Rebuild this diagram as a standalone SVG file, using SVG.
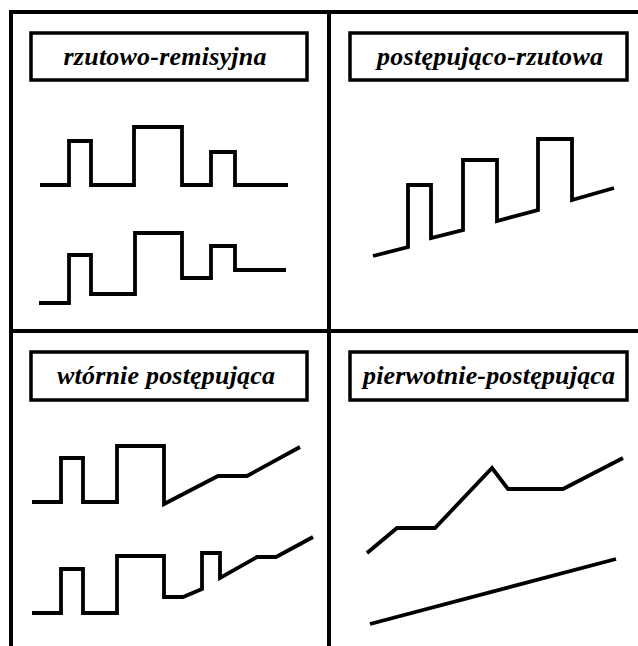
<svg xmlns="http://www.w3.org/2000/svg" width="638" height="646" viewBox="0 0 638 646">
<style>
.frame{stroke:#000;stroke-width:4;fill:none}
.box rect{fill:#fff;stroke:#000;stroke-width:3.5}
.box text{font-family:"Liberation Serif","DejaVu Serif",serif;font-weight:bold;font-style:italic;font-size:26px;fill:#000;text-anchor:middle}
.wave{fill:none;stroke:#000;stroke-width:3.8;stroke-linejoin:miter;stroke-linecap:butt}
</style>
<rect width="638" height="646" fill="#fff"/>
<g id="grid" class="frame">
<line x1="9" y1="12" x2="638" y2="12"/>
<line x1="11" y1="10" x2="11" y2="646"/>
<line x1="329" y1="10" x2="329" y2="646"/>
<line x1="9" y1="331" x2="638" y2="331"/>
</g>
<g id="panel-rr">
<g class="box"><rect x="31" y="33" width="276" height="47"/><text x="165" y="65" textLength="203">rzutowo-remisyjna</text></g>
<path class="wave" d="M40,185 H69 V141 H91 V185 H134 V127 H182 V185 H211 V152 H235 V185 H288"/>
<path class="wave" d="M39,303 H69 V255 H91 V294 H135 V233 H182 V278 H211 V246 H235 V270 H286"/>
</g>
<g id="panel-pr">
<g class="box"><rect x="350" y="33" width="277" height="47"/><text x="490" y="65" textLength="226">postępująco-rzutowa</text></g>
<path class="wave" d="M373,256 L408,247 V185 H431 V238 L463,230 V160 H497 V221 L538,210 V139 H572 V200 L614,188"/>
</g>
<g id="panel-wp">
<g class="box"><rect x="31" y="352" width="276" height="48"/><text x="166" y="384" textLength="218">wtórnie postępująca</text></g>
<path class="wave" d="M32,502 H61 V458 H83 V502 H117 V446 H164 V504 L218,476 H247 L300,447"/>
<path class="wave" d="M32,613 H61 V569 H83 V613 H117 V556 H164 V597 H183 L202,589 V553 H220 V578 L257,557 H276 L313,537"/>
</g>
<g id="panel-pp">
<g class="box"><rect x="350" y="352" width="277" height="48"/><text x="489" y="384" textLength="252">pierwotnie-postępująca</text></g>
<path class="wave" d="M367,553 L397,528 H435 L492,468 L508,489 H563 L623,458"/>
<path class="wave" d="M370,624 L616,559"/>
</g>
</svg>
